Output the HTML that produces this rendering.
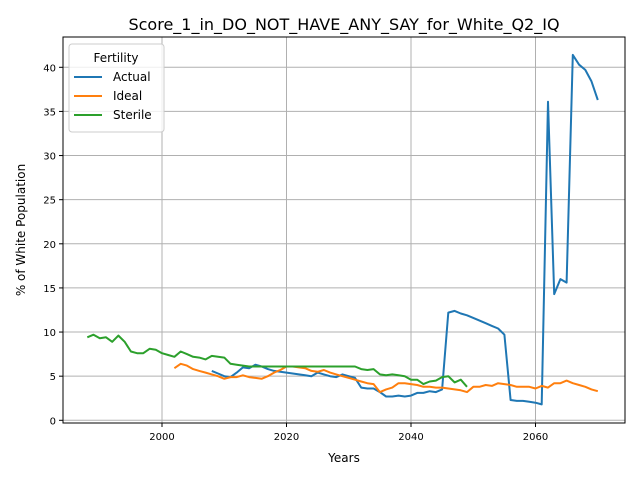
<!DOCTYPE html>
<html><head><meta charset="utf-8"><style>
body{margin:0;background:#fff}
svg text{font-family:"DejaVu Sans","Liberation Sans",sans-serif;fill:#000}
</style></head><body>
<svg id="chart" width="640" height="480" xmlns="http://www.w3.org/2000/svg">
<rect width="640" height="480" fill="#fff"/>
<text x="344" y="30" font-size="16" text-anchor="middle">Score_1_in_DO_NOT_HAVE_ANY_SAY_for_White_Q2_IQ</text>
<g id="grid"></g><g id="series"></g><g id="axes"></g>
<text x="344" y="462" font-size="12" text-anchor="middle">Years</text>
<text transform="translate(25,230) rotate(-90)" font-size="12" text-anchor="middle">% of White Population</text>
</svg>
<script>
const xTicks=[2000,2020,2040,2060];
const yTicks=[0,5,10,15,20,25,30,35,40];
const actualStart=2008;
const actual=[5.6,5.3,5.0,4.9,5.4,6.0,5.9,6.3,6.1,5.8,5.6,5.5,5.4,5.3,5.2,5.1,5.0,5.4,5.2,5.0,4.9,5.2,5.0,4.8,3.7,3.6,3.6,3.2,2.7,2.7,2.8,2.7,2.8,3.1,3.1,3.3,3.2,3.5,12.2,12.4,12.1,11.9,11.6,11.3,11.0,10.7,10.4,9.7,2.3,2.2,2.2,2.1,2.0,1.8,36.1,14.3,16.0,15.6,41.4,40.3,39.7,38.4,36.3];
const idealStart=2002;
const ideal=[5.9,6.4,6.2,5.8,5.6,5.4,5.2,5.0,4.7,4.9,4.9,5.1,4.9,4.8,4.7,5.0,5.4,5.7,6.1,6.1,6.0,5.9,5.6,5.5,5.7,5.4,5.2,5.0,4.8,4.6,4.4,4.2,4.1,3.2,3.5,3.7,4.2,4.2,4.1,4.0,3.8,3.8,3.7,3.7,3.6,3.5,3.4,3.2,3.8,3.8,4.0,3.9,4.2,4.1,4.0,3.8,3.8,3.8,3.6,3.9,3.7,4.2,4.2,4.5,4.2,4.0,3.8,3.5,3.3];
const sterileStart=1988;
const sterile=[9.4,9.7,9.3,9.4,8.9,9.6,8.9,7.8,7.6,7.6,8.1,8.0,7.6,7.4,7.2,7.8,7.5,7.2,7.1,6.9,7.3,7.2,7.1,6.4,6.3,6.2,6.1,6.1,6.1,6.1,6.1,6.1,6.1,6.1,6.1,6.1,6.1,6.1,6.1,6.1,6.1,6.1,6.1,6.1,5.8,5.7,5.8,5.2,5.1,5.2,5.1,5.0,4.6,4.6,4.1,4.4,4.5,4.9,5.0,4.3,4.6,3.8];
const NS="http://www.w3.org/2000/svg";
const L=63,R=625,T=37,B=423;
const xs=y=>162+(y-2000)*6.225;
const ys=v=>420.3-v*8.825;
function mk(t,a,p){const e=document.createElementNS(NS,t);for(const k in a)e.setAttribute(k,a[k]);p.appendChild(e);return e;}
const grid=document.getElementById('grid'),axes=document.getElementById('axes'),ser=document.getElementById('series');
xTicks.forEach(t=>{const x=xs(t);
const g=mk('line',{x1:x,x2:x,y1:T,y2:B,stroke:'#b0b0b0','stroke-width':1},grid);


mk('line',{x1:x,x2:x,y1:B,y2:B+4,stroke:'#000'},axes);
const tx=mk('text',{x:x,y:B+17,'font-size':10,'text-anchor':'middle'},axes);tx.textContent=t;

});
yTicks.forEach(t=>{const y=ys(t);
const g=mk('line',{x1:L,x2:R,y1:y,y2:y,stroke:'#b0b0b0','stroke-width':1},grid);


mk('line',{x1:L-4,x2:L,y1:y,y2:y,stroke:'#000'},axes);
const tx=mk('text',{x:L-7,y:y+4,'font-size':10,'text-anchor':'end'},axes);tx.textContent=t;

});
const fr=mk('rect',{x:L,y:T,width:R-L,height:B-T,fill:'none',stroke:'#000','stroke-width':1},axes);


function line(arr,start,col,name){const p=arr.map((v,i)=>xs(start+i).toFixed(1)+','+ys(v).toFixed(1)).join(' ');
const e=mk('polyline',{points:p,fill:'none',stroke:col,'stroke-width':2,'stroke-linejoin':'round'},ser);

}
line(actual,actualStart,'#1f77b4','actual-line');
line(ideal,idealStart,'#ff7f0e','ideal-line');
line(sterile,sterileStart,'#2ca02c','sterile-line');
const lg=mk('g',{},axes);


mk('rect',{x:69,y:44,width:95,height:88,rx:3,fill:'#fff','fill-opacity':0.8,stroke:'#ccc'},lg);
const lt=mk('text',{x:116,y:62,'font-size':12,'text-anchor':'middle'},lg);lt.textContent='Fertility';
[['Actual','#1f77b4'],['Ideal','#ff7f0e'],['Sterile','#2ca02c']].forEach((d,i)=>{const y=77+i*19;
mk('line',{x1:74,x2:102,y1:y,y2:y,stroke:d[1],'stroke-width':2},lg);
const t=mk('text',{x:113,y:y+4,'font-size':12},lg);t.textContent=d[0];

});
</script>
</body></html>
